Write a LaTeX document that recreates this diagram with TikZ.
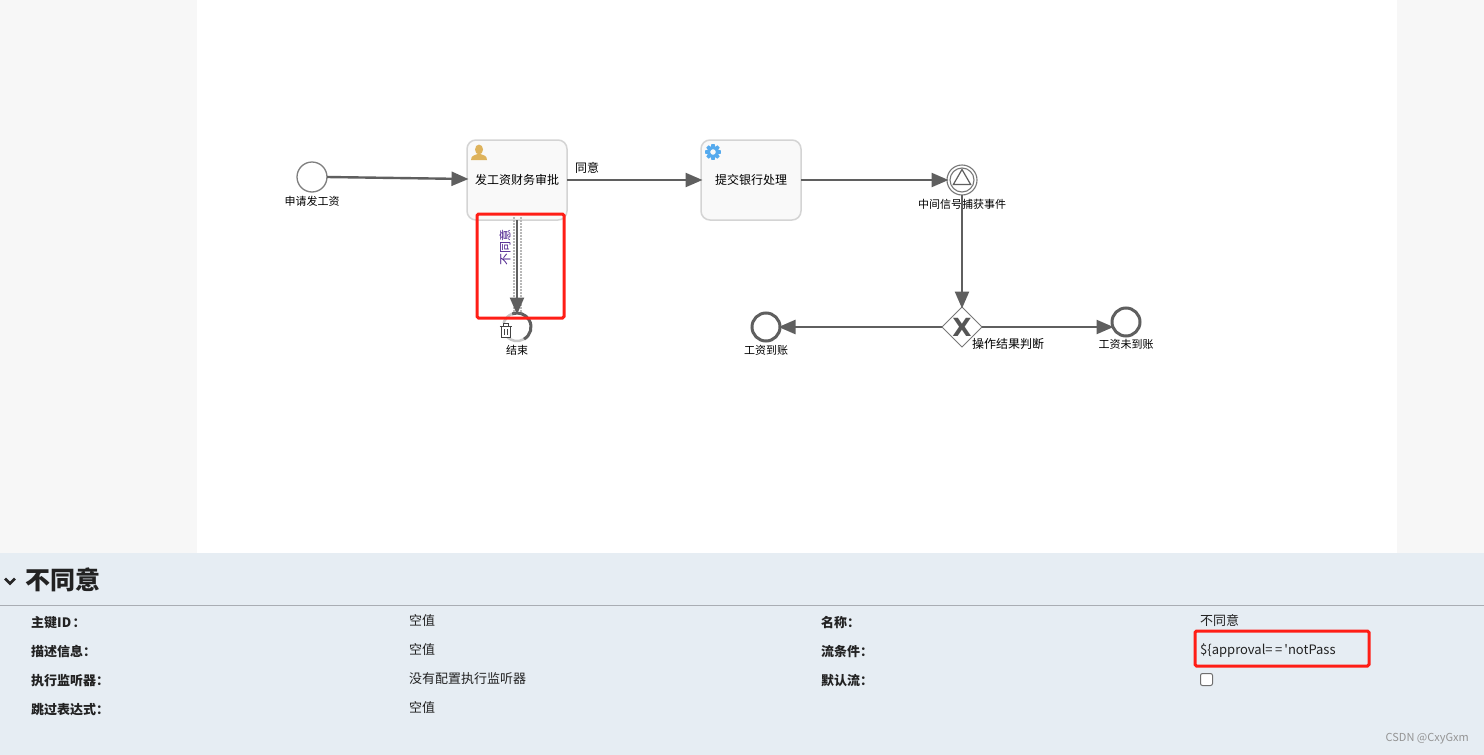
\documentclass[tikz,border=0pt]{standalone}
\usepackage{fontspec}
\setmainfont{Noto Sans CJK SC}
\newfontfamily\plainlatin{Noto Sans CJK SC}
\usetikzlibrary{arrows.meta,shapes.geometric,calc}
\definecolor{sidebg}{HTML}{F7F7F7}
\definecolor{panelbg}{HTML}{E6EDF3}
\definecolor{panelrule}{HTML}{A9ADB3}
\definecolor{flowc}{HTML}{5F5F5F}
\definecolor{dotc}{HTML}{B8B8B8}
\definecolor{taskfill}{HTML}{F9F9F9}
\definecolor{taskedge}{HTML}{D4D4D4}
\definecolor{userc}{HTML}{DEB35C}
\definecolor{gearc}{HTML}{55AAEE}
\definecolor{redbox}{HTML}{FF1E16}
\definecolor{txt}{HTML}{222222}
\definecolor{labelpurple}{HTML}{4A1E8C}
\tikzset{
  flow/.style={draw=flowc,line width=2.4pt,shorten >=-1.5pt,-{Triangle[length=17pt,width=14pt]}},
  taskbox/.style={draw=taskedge,fill=taskfill,line width=1.5pt,rounded corners=9pt,outer sep=0pt,minimum width=100pt,minimum height=80pt,inner sep=0pt,font=\fontsize{12}{14}\selectfont,text=black},
  startev/.style={circle,draw=flowc!80,line width=1.3pt,fill=white,outer sep=0pt,minimum size=30pt,inner sep=0pt},
  endev/.style={circle,draw=flowc,line width=3pt,fill=white,outer sep=0pt,minimum size=28pt,inner sep=0pt},
  lab/.style={inner sep=0pt,font=\fontsize{11}{13}\selectfont,text=black},
  keylab/.style={inner sep=0pt,anchor=west,font=\fontsize{13}{15}\selectfont\bfseries,text=txt},
  vallab/.style={inner sep=0pt,anchor=west,font=\fontsize{13}{15}\selectfont,text=txt},
  redmark/.style={draw=redbox,line width=3pt,rounded corners=1.5pt,inner sep=0pt},
  dotline/.style={draw=dotc,line width=2pt,dash pattern=on 2pt off 1pt},
}
\begin{document}
\begin{tikzpicture}[x=1pt,y=-1pt]
\useasboundingbox (0,0) rectangle (1484,755);
% backgrounds
\fill[white] (0,0) rectangle (1484,755);
\fill[sidebg] (0,0) rectangle (197,553);
\fill[sidebg] (1397,0) rectangle (1484,553);
\fill[panelbg] (0,553) rectangle (1484,755);
\draw[panelrule,line width=1pt] (0,605.5) -- (1484,605.5);
% nodes
\node[startev] (start) at (312,177) {};
\node[lab] (startl) at (312,201) {申请发工资};
\node[taskbox] (task1) at (517,180) {\raisebox{-0.5pt}{发工资财务审批}};
\node[taskbox] (task2) at (751,180) {\raisebox{-0.5pt}{提交银行处理}};
% user icon
\fill[userc] (479,149.5) ellipse (4pt and 5pt);
\fill[userc] (471,160) .. controls (471,155.5) and (475,155) .. (477.5,154) -- (480.5,154) .. controls (483,155) and (487,155.5) .. (487,160) -- cycle;
% gear icon
\foreach \a in {0,45,...,315}
  \fill[gearc] ($(713,152)+(\a-12:8pt)$) -- ($(713,152)+(\a+12:8pt)$) -- ($(713,152)+(\a+22:5.5pt)$) -- ($(713,152)+(\a-22:5.5pt)$) -- cycle;
\draw[gearc,line width=3pt] (713,152) circle (4.5pt);
% intermediate event
\node[circle,draw=flowc!85,line width=1.1pt,fill=white,outer sep=0pt,minimum size=30pt,inner sep=0pt] (inter) at (962,180) {};
\node[circle,draw=flowc!85,line width=1.1pt,minimum size=24pt,inner sep=0pt] (interin) at (962,180) {};
\node[regular polygon,regular polygon sides=3,draw=flowc,line width=1.2pt,minimum size=20pt,inner sep=0pt] (intertri) at (962,179.5) {};
\node[lab] (interl) at (962,204) {中间信号捕获事件};
% gateway
\node[diamond,draw=flowc!85,line width=1pt,fill=white,outer sep=0pt,minimum width=40pt,minimum height=40pt,inner sep=0pt] (gw) at (962,327) {};
\node[inner sep=0pt,text=flowc!90!black,font=\fontspec{DejaVu Sans Bold}\fontsize{25}{25}\selectfont] (gwx) at (962,327) {X};
\node[lab,font=\fontsize{12}{14}\selectfont] (gwl) at (1008,344) {操作结果判断};
% end events
\node[endev] (end1) at (766,327) {};
\node[lab] (end1l) at (766,350.5) {工资到账};
\node[endev] (end2) at (1126,322) {};
\node[lab] (end2l) at (1126,344.5) {工资未到账};
\node[circle,draw=none,outer sep=0pt,minimum size=28pt,inner sep=0pt] (end3) at (517,327) {};
\draw[flowc!35,line width=2.5pt] (end3.center) ++(110:14pt) arc[start angle=110,end angle=300,radius=14pt];
\draw[flowc,line width=3pt] (end3.center) ++(300:14pt) arc[start angle=300,end angle=470,radius=14pt];
\node[lab] (end3l) at (517,350.5) {结束};
% trash icon
\fill[white] (499,323) rectangle (512,338);
\draw[flowc!70!black,line width=1pt] (499.5,326) -- (512,326) (503,326) -- (503,323.5) -- (508.5,323.5) -- (508.5,326);
\draw[flowc!70!black,line width=1pt] (501,326) -- (501,337) -- (510.5,337) -- (510.5,326);
\draw[flowc!70!black,line width=.9pt] (504,329) -- (504,335) (507.5,329) -- (507.5,335);
% connectors
\draw[flow] (start.east) -- (task1.west |- 0,179);
\draw[flow] (task1.east) -- (task2.west);
\node[lab,font=\fontsize{12}{14}\selectfont] (agree) at (587,168) {同意};
\draw[flow] (task2.east) -- (inter.west);
\draw[flow] (inter.south) -- (gw.north);
\draw[flow] (gw.west) -- (end1.east);
\draw[flow] (gw.east) -- (gw.east -| end2.west);
\draw[dotline] ($(task1.south)+(-3.5,-3)$) -- ($(end3.north)+(-3.5,0)$);
\draw[dotline] ($(task1.south)+(3.5,-3)$) -- ($(end3.north)+(3.5,0)$);
\draw[flow] (task1.south) -- (end3.north);
\node[lab,font=\fontsize{12}{14}\selectfont,rotate=90,text=labelpurple] (nolab) at (505,247) {不同意};
% red marks
\node[redmark,minimum width=87pt,minimum height=104pt] (mark1) at (520.5,266) {};
\node[redmark,minimum width=174pt,minimum height=35pt] (mark2) at (1282,648.5) {};
% panel heading
\draw[black!85,line width=2.6pt] (5,578.5) -- (10,583.5) -- (15,578.5);
\node[inner sep=0pt,anchor=west,font=\fontsize{25}{28}\selectfont\bfseries,text=txt] (title) at (25,580) {不同意};
% panel rows, left
\node[keylab] (k1) at (31,623) {主键ID\kern1.5pt：};
\node[keylab] (k2) at (31,652) {描述信息：};
\node[keylab] (k3) at (31,681) {执行监听器：};
\node[keylab] (k4) at (31,710) {跳过表达式：};
\node[vallab] (v1) at (409,621) {空值};
\node[vallab] (v2) at (409,650) {空值};
\node[vallab] (v3) at (409,679) {没有配置执行监听器};
\node[vallab] (v4) at (409,708) {空值};
% panel rows, right
\node[keylab] (k5) at (821,623) {名称：};
\node[keylab] (k6) at (821,652) {流条件：};
\node[keylab] (k7) at (821,681) {默认流：};
\node[vallab] (v5) at (1200,620.5) {不同意};
\node[vallab] (v6) at (1200,651) {\plainlatin \$\{approval=\kern2.5pt=\kern2pt'notPass};
\node[draw=flowc!90,fill=white,line width=1pt,rounded corners=2pt,minimum size=12pt,inner sep=0pt] (chk) at (1206.5,679.5) {};
% watermark
\node[inner sep=0pt,anchor=east,font=\fontsize{11}{12}\selectfont,text=black!42] (wm) at (1469,739) {CSDN @CxyGxm};
\end{tikzpicture}
\end{document}
